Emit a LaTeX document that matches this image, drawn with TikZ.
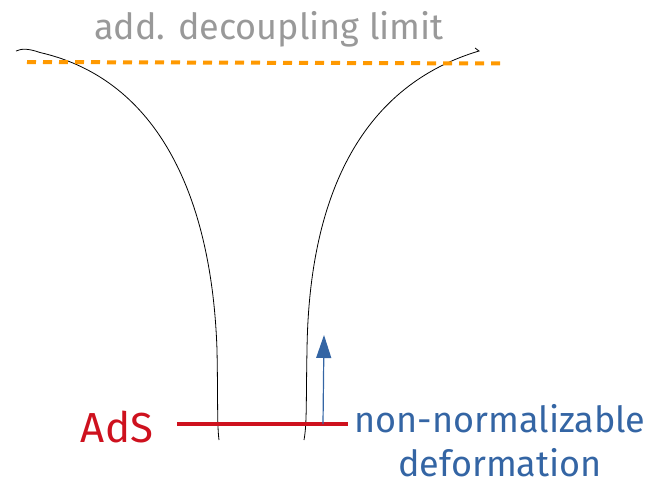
\documentclass[tikz,border=0pt]{standalone}
\usepackage{fontspec}
\setmainfont{Fira Sans}
\usetikzlibrary{arrows.meta}
\definecolor{limitgray}{RGB}{153,153,153}
\definecolor{limitorange}{RGB}{255,153,0}
\definecolor{adsred}{RGB}{206,17,30}
\definecolor{deformblue}{RGB}{52,101,164}
\begin{document}
\begin{tikzpicture}[x=1pt,y=-1pt,>={Triangle[length=23pt,width=15pt]},inner sep=0pt]
\useasboundingbox (0,0) rectangle (650,482);
\node[anchor=base, text=limitgray, font=\fontsize{36}{40}\selectfont] (limit) at (269,39) {add. decoupling limit};
\node[anchor=base, text=adsred, font=\fontsize{42}{44}\selectfont] (ads) at (117,442) {AdS};
\node[anchor=base, text=deformblue, font=\fontsize{36}{44}\selectfont, align=center, text depth=0pt] (deform) at (500,476) {non-normalizable\\deformation};
% throat
\draw[line width=0.8pt] (16,51) .. controls (22,48) and (30,49) .. (40,52.5)
  .. controls (160,80) and (212,200) .. (217,350)
  .. controls (218,400) and (217,424) .. (219,440);
\draw[line width=0.8pt] (304,440) .. controls (307,424) and (306,400) .. (307,350)
  .. controls (309,190) and (365,85) .. (479,51) -- ++(-4,-3);
% cutoff
\coordinate (cutL) at (27,62);
\coordinate (cutR) at (502,63.5);
\draw[limitorange, line width=4pt, dash pattern=on 9pt off 7pt] (cutL) -- (cutR);
% boundary
\coordinate (adsL) at (177,424);
\coordinate (adsR) at (348,424);
\draw[adsred, line width=4pt] (adsL) -- (adsR);
\coordinate (flowS) at (323,424);
\coordinate (flowE) at (324,335);
\draw[->, deformblue, line width=1.2pt] (flowS) -- (flowE);
\end{tikzpicture}
\end{document}
